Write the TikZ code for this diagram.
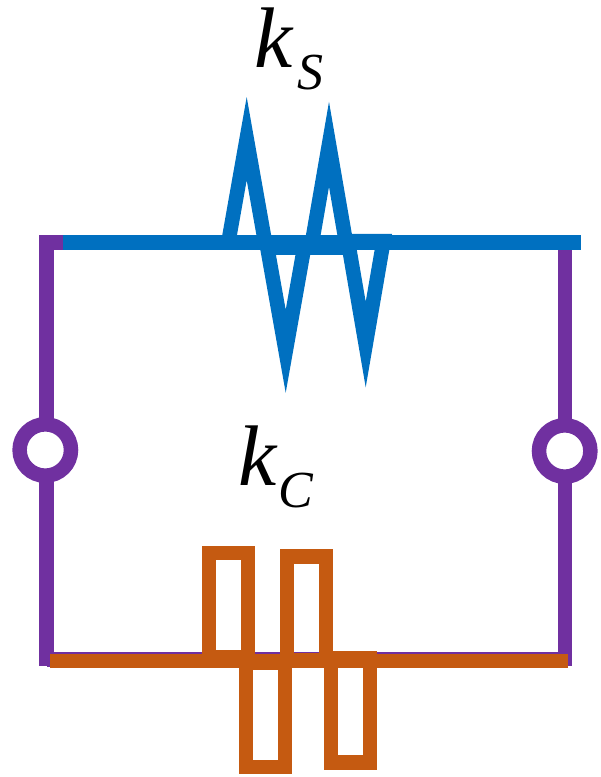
\documentclass[tikz,border=0pt]{standalone}
\usepackage{fontspec}
\setmainfont{Liberation Serif}
\definecolor{wirepurple}{HTML}{7030A0}
\definecolor{springblue}{HTML}{0070C0}
\definecolor{damperorange}{HTML}{C55A11}
\tikzset{
  wire/.style={line width=14.5pt,miter limit=30},
  terminal/.style={circle,draw=wirepurple,fill=white,line width=14.5pt,inner sep=0pt,minimum size=51.4pt},
  symbolbig/.style={inner sep=0pt,anchor=base west,font=\itshape\fontsize{86}{86}\selectfont},
  symbolsmall/.style={inner sep=0pt,anchor=base west,font=\itshape\fontsize{52}{52}\selectfont}
}
\begin{document}
\begin{tikzpicture}[x=1pt,y=-1pt]
\useasboundingbox (0,0) rectangle (601,777);
% frame
\coordinate (tl) at (62.7,242.5);
\coordinate (tlc) at (46.5,242.5);
\coordinate (bl) at (46.5,666);
\coordinate (tr) at (565,245);
\coordinate (br) at (565,666);
\draw[wire,wirepurple] (tl) -- (tlc) -- (bl);
\draw[wire,wirepurple] (tr) -- (br);
\draw[line width=14.5pt,wirepurple] (46.5,659.5) -- (565,659.5);
\node[terminal] (termL) at (45.3,450) {};
\node[terminal] (termR) at (564.7,451) {};
% spring
\draw[wire,springblue] (62.7,242.5) -- (581,242.5);
\draw[wire,springblue] (228.3,242.5) -- (246.7,138.6) -- (265.1,242.5) -- cycle;
\draw[wire,springblue] (267.3,247.7) -- (285.7,351.3) -- (304.1,247.7) -- cycle;
\draw[wire,springblue] (311.1,247.7) -- (329,144.3) -- (346.9,247.7) -- cycle;
\draw[wire,springblue] (347.9,241) -- (365.7,344.5) -- (383.5,241) -- cycle;
% damper
\draw[wire,damperorange] (50,661) -- (568,661);
\draw[wire,damperorange] (209.2,657) rectangle (248,553.2);
\draw[wire,damperorange] (246.2,662.7) rectangle (285,767);
\draw[wire,damperorange] (286.9,660.6) rectangle (325.8,556.6);
\draw[wire,damperorange] (330.9,658.5) rectangle (369.8,762.5);
% labels
\node[symbolbig] (kS) at (254.5,67) {k};
\node[symbolsmall] (subS) at (297,89.5) {S};
\node[symbolbig] (kC) at (238.5,485) {k};
\node[symbolsmall] (subC) at (278,507.5) {C};
\end{tikzpicture}
\end{document}
